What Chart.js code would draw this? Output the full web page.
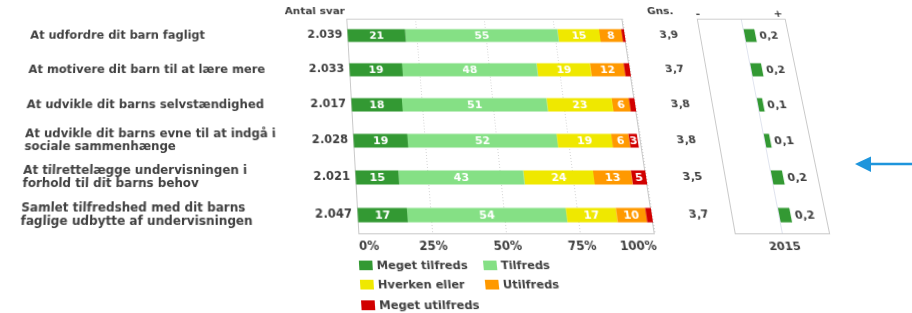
<!DOCTYPE html>
<html>
<head>
<meta charset="utf-8">
<script src="https://cdn.jsdelivr.net/npm/chart.js@4.4.1/dist/chart.umd.min.js"></script>
<style>
  html, body { margin: 0; padding: 0; background: #fff; width: 912px; height: 313px; overflow: hidden; }
  /* the photo is slightly tilted, so the whole chart sits on a plane leaning back */
  #stage { position: absolute; left: 0; top: 0; width: 912px; height: 330px;
           transform-origin: 183px 156px; transform: perspective(400px) rotateX(7.48deg); }
  #mainChart { position: absolute; left: 0; top: -10px; }
  #diffChart { position: absolute; left: 700px; top: -10px; }
  #legend { position: absolute; left: 353px; top: 255px; width: 260px;
            font: bold 11px "DejaVu Sans", Verdana, sans-serif; color: #404040; }
  .item { position: absolute; display: flex; align-items: center; height: 14px; white-space: nowrap; }
  .box { display: inline-block; width: 13px; height: 9px; margin-right: 4px; }
  #arrow { position: absolute; left: 0; top: 0; }
</style>
</head>
<body>
<div id="stage">
  <canvas id="mainChart" width="700" height="270"></canvas>
  <canvas id="diffChart" width="150" height="270"></canvas>
  <div id="legend"></div>
</div>
<svg id="arrow" width="912" height="313">
  <line x1="868" y1="164" x2="912" y2="164" stroke="#1e95dc" stroke-width="2.5"/>
  <polygon points="855,164 871,156.5 871,172" fill="#1e95dc"/>
</svg>
<script>
const categories = [
  'At udfordre dit barn fagligt',
  'At motivere dit barn til at lære mere',
  'At udvikle dit barns selvstændighed',
  ['At udvikle dit barns evne til at indgå i', 'sociale sammenhænge'],
  ['At tilrettelægge undervisningen i', 'forhold til dit barns behov'],
  ['Samlet tilfredshed med dit barns', 'faglige udbytte af undervisningen']
];
const antalSvar = [2039, 2033, 2017, 2028, 2021, 2047];
const megetTilfreds = [21, 19, 18, 19, 15, 17];
const tilfreds = [55, 48, 51, 52, 43, 54];
const hverkenEller = [15, 19, 23, 19, 24, 17];
const utilfreds = [8, 12, 6, 6, 13, 10];
const megetUtilfreds = [1, 2, 2, 3, 5, 2];
const gennemsnit = [3.9, 3.7, 3.8, 3.8, 3.5, 3.7];
const forskel2015 = [0.2, 0.2, 0.1, 0.1, 0.2, 0.2];
const percentTicks = ['0%', '25%', '50%', '75%', '100%'];

const textColor = '#404040';
const fontFamily = '"DejaVu Sans", Verdana, sans-serif';
Chart.defaults.font.family = fontFamily;
Chart.defaults.font.size = 11;
Chart.defaults.font.weight = 'bold';
Chart.defaults.color = textColor;

const fmtComma = v => v.toFixed(1).replace('.', ',');
const fmtCount = n => Math.floor(n / 1000) + '.' + String(n % 1000).padStart(3, '0');

// light grey box round the plot area
const framePlugin = {
  id: 'frame',
  beforeDatasetsDraw(chart) {
    const { ctx, chartArea: a } = chart;
    ctx.save();
    ctx.strokeStyle = '#c9c9c9';
    ctx.lineWidth = 1;
    ctx.strokeRect(a.left + 0.5, a.top + 0.5, a.right - a.left - 1, a.bottom - a.top - 1);
    ctx.restore();
  }
};

const mainText = {
  id: 'mainText',
  afterDatasetsDraw(chart) {
    const { ctx, chartArea: a, scales: { y } } = chart;
    ctx.save();
    ctx.font = 'bold 11px ' + fontFamily;
    ctx.textBaseline = 'middle';
    ctx.textAlign = 'center';
    ctx.fillStyle = '#fff';
    chart.data.datasets.forEach((ds, i) => {
      chart.getDatasetMeta(i).data.forEach((bar, j) => {
        if (ds.data[j] < 3) return; // too thin for a label
        const p = bar.getCenterPoint();
        ctx.fillText(ds.data[j], p.x, p.y + 0.5);
      });
    });
    ctx.fillStyle = textColor;
    ctx.textAlign = 'right';
    ctx.fillText('Antal svar', a.left - 1, 13);
    ctx.textAlign = 'center';
    ctx.fillText('Gns.', a.right + 41, 13);
    gennemsnit.forEach((v, j) => ctx.fillText(fmtComma(v), a.right + 46, y.getPixelForValue(j)));
    ctx.restore();
  }
};

const diffText = {
  id: 'diffText',
  afterDatasetsDraw(chart) {
    const { ctx, chartArea: a } = chart;
    ctx.save();
    ctx.font = 'bold 11px ' + fontFamily;
    ctx.fillStyle = textColor;
    ctx.textBaseline = 'middle';
    ctx.textAlign = 'left';
    chart.getDatasetMeta(0).data.forEach((bar, j) => {
      ctx.fillText(fmtComma(forskel2015[j]), bar.x + 4, bar.y + 0.5);
    });
    ctx.textAlign = 'center';
    ctx.fillText('-', a.left + 2, 16);
    ctx.fillText('+', a.right - 7, 16);
    ctx.fillText('2015', (a.left + a.right) / 2, a.bottom + 12);
    ctx.restore();
  }
};

const barOpts = { barPercentage: 0.38, categoryPercentage: 1 };

const mainChart = new Chart(document.getElementById('mainChart'), {
  type: 'bar',
  data: {
    labels: categories,
    datasets: [
      { label: 'Meget tilfreds', data: megetTilfreds, backgroundColor: '#339933' },
      { label: 'Tilfreds', data: tilfreds, backgroundColor: '#85e085' },
      { label: 'Hverken eller', data: hverkenEller, backgroundColor: '#efe800' },
      { label: 'Utilfreds', data: utilfreds, backgroundColor: '#ff9900' },
      { label: 'Meget utilfreds', data: megetUtilfreds, backgroundColor: '#d10000' }
    ]
  },
  options: {
    indexAxis: 'y',
    responsive: false,
    animation: false,
    datasets: { bar: barOpts },
    layout: { padding: { top: 21, left: 24, right: 57, bottom: 0 } },
    plugins: { legend: { display: false }, tooltip: { enabled: false } },
    scales: {
      x: {
        stacked: true, min: 0, max: 100,
        ticks: { stepSize: 25, align: 'inner', padding: 5, font: { size: 11.5 },
                 callback: (v, i) => percentTicks[i] },
        grid: { color: '#d4d4d4', drawTicks: false },
        border: { display: false, dash: [1, 2] },
        afterFit: s => { s.height = 27; }
      },
      y: {
        stacked: true, weight: 10,
        ticks: { crossAlign: 'far', padding: 0, font: { size: 11.8, lineHeight: 1.1 } },
        grid: { display: false, drawTicks: false },
        border: { display: false },
        afterFit: s => { s.width = 280; }
      },
      y2: {
        type: 'category', position: 'left', weight: 0, offset: true,
        labels: antalSvar.map(fmtCount),
        ticks: { padding: 5, font: { size: 11.5 } },
        grid: { display: false, drawTicks: false },
        border: { display: false },
        afterFit: s => { s.width = 50; }
      }
    }
  },
  plugins: [framePlugin, mainText]
});

new Chart(document.getElementById('diffChart'), {
  type: 'bar',
  data: {
    labels: categories,
    datasets: [{ label: '2015', data: forskel2015, backgroundColor: '#339933' }]
  },
  options: {
    indexAxis: 'y',
    responsive: false,
    animation: false,
    datasets: { bar: barOpts },
    layout: { padding: { top: 21, left: 21, right: 36, bottom: 0 } },
    plugins: { legend: { display: false }, tooltip: { enabled: false } },
    scales: {
      x: {
        min: -0.8, max: 0.8,
        ticks: { display: false, stepSize: 0.8 },
        grid: { color: c => (c.tick && c.tick.value === 0 ? '#dfe3ee' : 'rgba(0,0,0,0)'), drawTicks: false },
        border: { display: false },
        afterFit: s => { s.height = 27; }
      },
      y: { display: false }
    }
  },
  plugins: [framePlugin, diffText]
});

// legend in two columns like the original
const legendEl = document.getElementById('legend');
mainChart.data.datasets.forEach((ds, i) => {
  const item = document.createElement('div');
  item.className = 'item';
  item.style.left = (i % 2) * 120 + 'px';
  item.style.top = Math.floor(i / 2) * 18.7 + 'px';
  item.innerHTML = '<span class="box" style="background:' + ds.backgroundColor + '"></span>' + ds.label;
  legendEl.appendChild(item);
});
</script>
</body>
</html>
